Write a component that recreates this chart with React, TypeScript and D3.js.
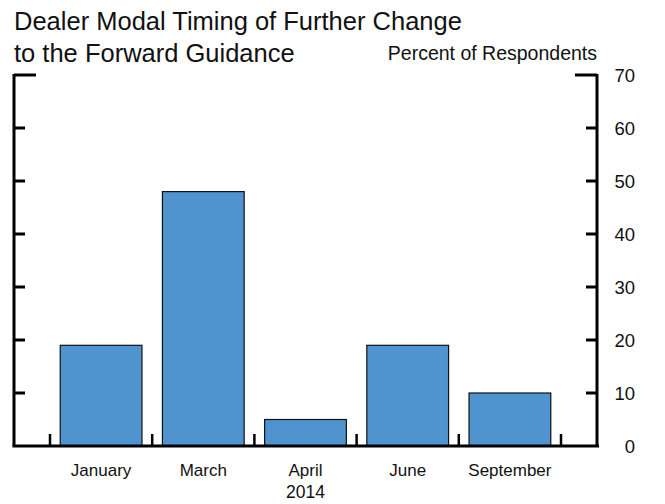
import React from "react";
import * as d3 from "d3";

const categories = ["January", "March", "April", "June", "September"];
const values = [19, 48, 5, 19, 10];
const yTicks = [0, 10, 20, 30, 40, 50, 60, 70];
const titleLines = ["Dealer Modal Timing of Further Change", "to the Forward Guidance"];
const unitLabel = "Percent of Respondents";
const yearLabel = "2014";

const W = 665;
const H = 504;
const FONT = "'Liberation Sans', Arial, Helvetica, sans-serif";

export default function App() {
  const left = 14;
  const right = 597;
  const top = 75;
  const bottom = 446;

  const x = d3
    .scaleBand<string>()
    .domain(categories)
    .range([50, 561])
    .paddingInner(0.2)
    .paddingOuter(0.1);
  const y = d3.scaleLinear().domain([0, 70]).range([bottom, top]);

  const step = x.step();
  const boundaries = d3.range(categories.length + 1).map((i) => 50 + i * step);

  return (
    <svg
      width={W}
      height={H}
      style={{ position: "fixed", left: 0, top: 0, background: "#fff" }}
      fontFamily={FONT}
    >
      <rect x={0} y={0} width={W} height={H} fill="#fff" />
      {titleLines.map((t, i) => (
        <text key={i} x={14} y={30 + i * 32} fontSize={25.5} fill="#111">
          {t}
        </text>
      ))}
      <text x={597} y={60} fontSize={19.5} textAnchor="end" fill="#111">
        {unitLabel}
      </text>

      {categories.map((c, i) => (
        <rect
          key={c}
          x={x(c)!}
          y={y(values[i])}
          width={x.bandwidth()}
          height={y(0) - y(values[i])}
          fill="#4F94CF"
          stroke="#111"
          strokeWidth={1.2}
        />
      ))}

      {/* axes */}
      <line x1={left} x2={left} y1={top - 1} y2={bottom} stroke="#000" strokeWidth={3} />
      <line x1={right} x2={right} y1={top - 1} y2={bottom} stroke="#000" strokeWidth={3} />
      <line x1={left - 1.5} x2={right + 2} y1={bottom} y2={bottom} stroke="#000" strokeWidth={3} />

      {yTicks.map((t) => {
        const len = t === 70 ? 22 : 11;
        return (
          <g key={t}>
            {t !== 0 && (
              <>
                <line x1={left} x2={left + len} y1={y(t)} y2={y(t)} stroke="#000" strokeWidth={3} />
                <line x1={right - len} x2={right} y1={y(t)} y2={y(t)} stroke="#000" strokeWidth={3} />
              </>
            )}
            <text x={635} y={y(t) + 6.5} fontSize={18.5} textAnchor="end" fill="#111">
              {t}
            </text>
          </g>
        );
      })}

      {boundaries.map((b, i) => (
        <line key={i} x1={b} x2={b} y1={bottom} y2={bottom - 12} stroke="#000" strokeWidth={2.5} />
      ))}

      {categories.map((c) => (
        <text
          key={c}
          x={x(c)! + x.bandwidth() / 2}
          y={476}
          fontSize={17}
          textAnchor="middle"
          fill="#111"
        >
          {c}
        </text>
      ))}
      <text x={x("April")! + x.bandwidth() / 2} y={498} fontSize={17.5} textAnchor="middle" fill="#111">
        {yearLabel}
      </text>
    </svg>
  );
}
